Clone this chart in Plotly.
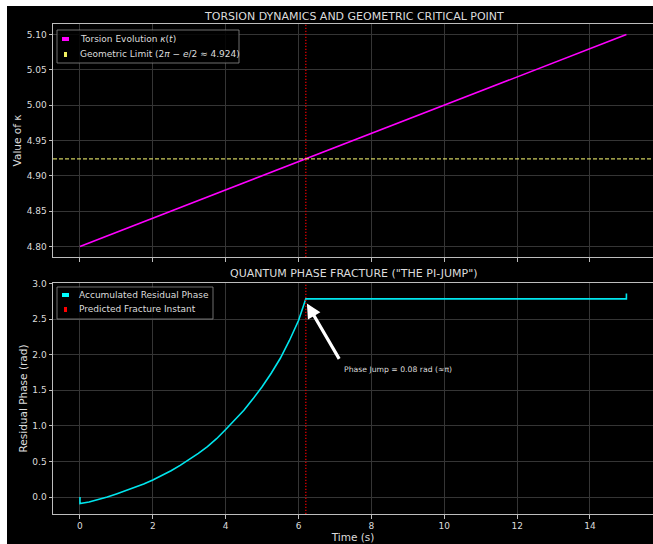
import plotly.graph_objects as go
from plotly.subplots import make_subplots

# ---------------- data ----------------
kappa_t = [0.0, 15.0]
kappa_v = [4.80, 5.10]
geometric_limit = 4.924          # 2*pi - e/2
critical_t = 6.2

phase_t = [0.0, 0.0, 0.25, 0.5, 0.75, 1.0, 1.25, 1.5, 1.75, 2.0, 2.25, 2.5, 2.75,
           3.0, 3.25, 3.5, 3.75, 4.0, 4.25, 4.5, 4.75, 5.0, 5.25, 5.5, 5.75,
           6.0, 6.2, 15.0, 15.0]
phase_v = [0.0, -0.09, -0.07, -0.04, 0.0, 0.045, 0.09, 0.135, 0.185, 0.24, 0.30,
           0.37, 0.445, 0.525, 0.615, 0.71, 0.82, 0.95, 1.08, 1.22, 1.38, 1.55,
           1.74, 1.95, 2.20, 2.48, 2.785, 2.785, 2.86]

x_ticks = [0, 2, 4, 6, 8, 10, 12, 14]
top_title = "TORSION DYNAMICS AND GEOMETRIC CRITICAL POINT"
bottom_title = 'QUANTUM PHASE FRACTURE ("THE PI-JUMP")'
jump_text = "Phase Jump = 0.08 rad (≈π)"

# ---------------- layout helpers (pixel -> paper) ----------------
W, H = 653, 544
ML, MR, MT, MB = 53, 0, 24, 30
PW, PH = W - ML - MR, H - MT - MB


def px(x):
    return (x - ML) / PW


def py(y):
    return (H - MB - y) / PH


FONT = "DejaVu Sans"
TXT = "#dcdcdc"
GRID = "#353535"
SPINE = "#bdbdbd"

fig = make_subplots(rows=2, cols=1, shared_xaxes=False, vertical_spacing=0.0)

fig.add_trace(go.Scatter(x=kappa_t, y=kappa_v, mode="lines", name="Torsion Evolution κ(t)",
                         line=dict(color="#ff00ff", width=1.6), showlegend=False), row=1, col=1)
fig.add_trace(go.Scatter(x=phase_t, y=phase_v, mode="lines", name="Accumulated Residual Phase",
                         line=dict(color="#00e6ee", width=1.6), showlegend=False), row=2, col=1)

xr = [-0.74, 15.73]
common_x = dict(range=xr, tickvals=x_ticks, ticks="outside", ticklen=3.5, tickwidth=0.8,
                tickcolor=SPINE, showgrid=True, gridcolor=GRID, gridwidth=0.8,
                showline=True, mirror=True, linecolor=SPINE, linewidth=1, zeroline=False,
                tickfont=dict(family=FONT, size=9, color=TXT))
common_y = dict(ticks="outside", ticklen=3.5, tickwidth=0.8, tickcolor=SPINE,
                showgrid=True, gridcolor=GRID, gridwidth=0.8, showline=True, mirror=False,
                linecolor=SPINE, linewidth=1, zeroline=False,
                tickfont=dict(family=FONT, size=9, color=TXT))

fig.update_layout(
    xaxis=dict(common_x, domain=[0, 1], anchor="y", showticklabels=False),
    yaxis=dict(common_y, domain=[py(257), 1], anchor="x", range=[4.785, 5.115], dtick=0.05,
               tick0=4.8, tickformat=".2f",
               title=dict(text="Value of κ", standoff=2,
                          font=dict(family=FONT, size=10.5, color=TXT))),
    xaxis2=dict(common_x, domain=[0, 1], anchor="y2",
                title=dict(text="Time (s)", standoff=3,
                           font=dict(family=FONT, size=10.5, color=TXT))),
    yaxis2=dict(common_y, domain=[0, py(283)], anchor="x2", range=[-0.2375, 3.0075], dtick=0.5,
                tick0=0, tickformat=".1f",
                title=dict(text="Residual Phase (rad)", standoff=2,
                           font=dict(family=FONT, size=10.5, color=TXT))),
)

shapes = []
# black figure background (white border visible on top/left)
shapes.append(dict(type="rect", xref="paper", yref="paper", x0=px(7), x1=px(W + 10),
                   y0=py(H + 10), y1=py(6), fillcolor="black", line=dict(width=0),
                   layer="below"))
# geometric limit
shapes.append(dict(type="line", xref="x", yref="y", x0=xr[0], x1=xr[1], y0=geometric_limit,
                   y1=geometric_limit, line=dict(color="rgba(240,240,110,0.85)", width=1.2,
                                                 dash="4px,2px")))
# predicted fracture instant in both panels
for xa, ya in (("x", "y domain"), ("x2", "y2 domain")):
    shapes.append(dict(type="line", xref=xa, yref=ya, x0=critical_t, x1=critical_t, y0=0, y1=1,
                       line=dict(color="#e00000", width=1.3, dash="1.3px,1.7px")))

# custom legends
def legend_box(x0, x1, y0, y1):
    shapes.append(dict(type="rect", xref="paper", yref="paper", x0=px(x0), x1=px(x1),
                       y0=py(y1), y1=py(y0), fillcolor="rgba(0,0,0,0.85)",
                       line=dict(color="#8a8a8a", width=0.8)))


def handle(x0, x1, y0, y1, color):
    shapes.append(dict(type="rect", xref="paper", yref="paper", x0=px(x0), x1=px(x1),
                       y0=py(y1), y1=py(y0), fillcolor=color, line=dict(width=0)))


legend_box(57, 239, 30, 63)
handle(62, 69, 37, 41, "#ff00ff")
handle(64, 67, 52, 57, "#f0f060")
legend_box(57, 213, 287, 319)
handle(62, 69, 293, 297, "#00ffff")
handle(64, 67, 307, 312, "#ff0000")

annotations = []


def label(x, y, text, size=9, xanchor="left"):
    annotations.append(dict(xref="paper", yref="paper", x=px(x), y=py(y), text=text,
                            showarrow=False, xanchor=xanchor, yanchor="middle",
                            font=dict(family=FONT, size=size, color=TXT)))


label(78, 39, "Torsion Evolution <i>κ</i>(<i>t</i>)")
label(78, 54, "Geometric Limit (2<i>π</i> − <i>e</i>/2 ≈ 4.924)")
label(77, 295, fig.data[1].name)
label(77, 309, "Predicted Fracture Instant")
label(354, 16, top_title, size=11, xanchor="center")
label(354, 273, bottom_title, size=11, xanchor="center")

# arrow + text in bottom panel
annotations.append(dict(xref="x2", yref="y2", axref="x2", ayref="y2", x=6.23, y=2.72,
                        ax=7.14, ay=1.92, text="", showarrow=True, arrowhead=2,
                        arrowsize=0.9, arrowwidth=3.2, arrowcolor="white"))
annotations.append(dict(xref="x2", yref="y2", x=7.19, y=1.79, text=jump_text,
                        showarrow=False, xanchor="left", yanchor="middle",
                        font=dict(family=FONT, size=7.7, color=TXT)))

fig.update_layout(
    width=W, height=H, margin=dict(l=ML, r=MR, t=MT, b=MB),
    paper_bgcolor="white", plot_bgcolor="black",
    shapes=shapes, annotations=annotations, showlegend=False,
    font=dict(family=FONT, color=TXT),
)

fig.write_html("out.html", config={"displayModeBar": False},
               post_script="document.body.style.margin='0px';document.body.style.overflow='hidden';")
